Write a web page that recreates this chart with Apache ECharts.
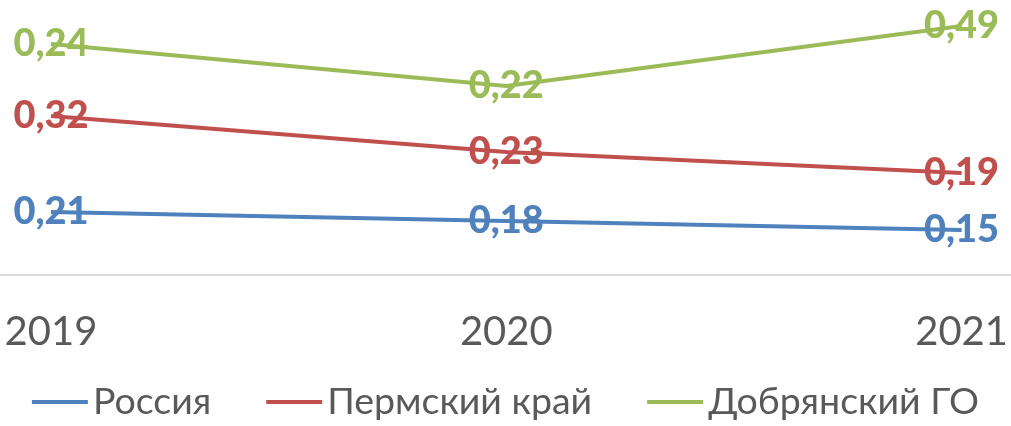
<!DOCTYPE html>
<html><head><meta charset="utf-8">
<script src="https://cdn.jsdelivr.net/npm/echarts@6/dist/echarts.min.js"></script>
<style>html,body{margin:0;padding:0;background:#fff}#c{width:1011px;height:426px}</style>
</head><body><div id="c"></div>
<script>
const categories = ['2019', '2020', '2021'];
const russia = [0.21, 0.18, 0.15];
const perm = [0.32, 0.23, 0.19];
const dobr = [0.24, 0.22, 0.49];
const seriesNames = ['Россия', 'Пермский край', 'Добрянский ГО'];
const colors = ['#4f81bd', '#c0504d', '#9bbb59'];

const chart = echarts.init(document.getElementById('c'), null, {renderer: 'canvas'});
const fmt = p => p.value.toFixed(2).replace('.', ',');
function mk(name, data, color) {
  return {
    name, type: 'line', stack: 'total', data,
    symbol: 'circle', symbolSize: 0.01,
    lineStyle: {color, width: 4},
    itemStyle: {color},
    label: {show: true, position: 'inside', formatter: fmt, color,
      fontFamily: 'Lato', fontWeight: 900, fontSize: 38},
    z: 2
  };
}
const gridBottom = 151;
chart.setOption({
  animation: false,
  backgroundColor: '#fff',
  grid: {left: 51, right: 44, top: 5, bottom: gridBottom},
  xAxis: {type: 'category', data: categories, boundaryGap: false,
    axisLine: {show: false}, axisTick: {show: false},
    axisLabel: {color: '#595959', fontFamily: 'Lato', fontSize: 40, margin: 37}},
  yAxis: {type: 'value', min: 0, max: 0.9, show: false, splitLine: {show: false}},
  legend: {bottom: 0, left: 'center', icon: 'rect', itemWidth: 56, itemHeight: 4, itemGap: 55,
    textStyle: {color: '#595959', fontFamily: 'Lato', fontSize: 37.5}},
  graphic: [{type: 'line', shape: {x1: 0, y1: 426 - gridBottom, x2: 1011, y2: 426 - gridBottom},
    style: {stroke: '#d9d9d9', lineWidth: 2}, z: 0}],
  series: [mk(seriesNames[0], russia, colors[0]), mk(seriesNames[1], perm, colors[1]), mk(seriesNames[2], dobr, colors[2])]
});
</script></body></html>
